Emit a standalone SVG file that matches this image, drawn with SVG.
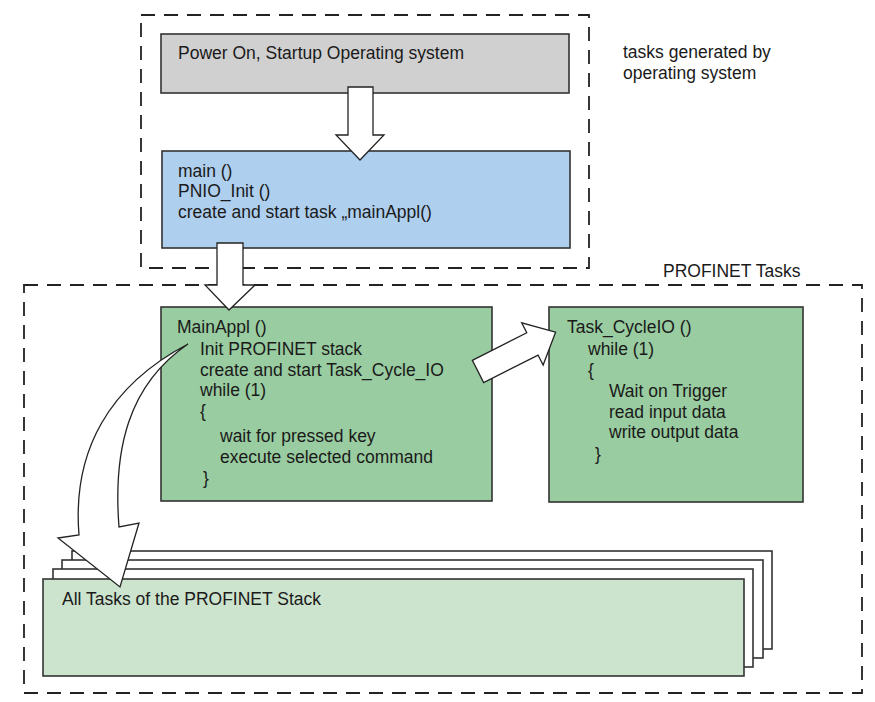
<svg xmlns="http://www.w3.org/2000/svg" width="875" height="702" viewBox="0 0 875 702">
<style>
text{font-family:"Liberation Sans",Arial,sans-serif;font-size:17.5px;fill:#1a1a1a}
.dash{fill:none;stroke:#222;stroke-width:1.8;stroke-dasharray:14 9}
.box{stroke:#333;stroke-width:1.6}
.arrow{fill:#fff;stroke:#222;stroke-width:1.3;stroke-linejoin:miter}
</style>
<rect width="875" height="702" fill="#fff"/>
<g id="os-frame">
<rect class="dash" x="141" y="15" width="448" height="253"/>
<text x="623" y="58">tasks generated by</text>
<text x="623" y="79">operating system</text>
</g>
<g id="profinet-frame">
<rect class="dash" x="24" y="285" width="838" height="408"/>
<text x="663" y="277">PROFINET Tasks</text>
</g>
<g id="power-on">
<rect class="box" x="161" y="34" width="408" height="59" fill="#d0d0d0"/>
<text x="178" y="59">Power On, Startup Operating system</text>
</g>
<g id="main">
<rect class="box" x="162" y="151" width="408" height="97" fill="#afcfee"/>
<text x="178" y="177">main ()</text>
<text x="178" y="197">PNIO_Init ()</text>
<text x="178" y="218">create and start task „mainAppl()</text>
</g>
<g id="stack">
<rect class="box" x="72" y="551" width="700" height="98" fill="#fff"/>
<rect class="box" x="62" y="560" width="701" height="98" fill="#fff"/>
<rect class="box" x="53" y="569" width="700" height="98" fill="#fff"/>
<rect class="box" x="43" y="579" width="701" height="97" fill="#cce3cd"/>
<text x="62" y="605">All Tasks of the PROFINET Stack</text>
</g>
<g id="mainappl">
<rect class="box" x="161" y="307" width="331" height="194" fill="#99cca0"/>
<text x="177" y="333">MainAppl ()</text>
<text x="200" y="355">Init PROFINET stack</text>
<text x="200" y="376">create and start Task_Cycle_IO</text>
<text x="200" y="396">while (1)</text>
<text x="200" y="417">{</text>
<text x="220" y="442">wait for pressed key</text>
<text x="220" y="463">execute selected command</text>
<text x="203" y="484">}</text>
</g>
<g id="task-cycleio">
<rect class="box" x="549" y="307" width="254" height="195" fill="#99cca0"/>
<text x="567" y="333">Task_CycleIO ()</text>
<text x="588" y="355">while (1)</text>
<text x="588" y="376">{</text>
<text x="609" y="397">Wait on Trigger</text>
<text x="609" y="418">read input data</text>
<text x="609" y="438">write output data</text>
<text x="595" y="460">}</text>
</g>
<g id="connectors">
<polygon class="arrow" points="348,87 373,87 373,135 384,135 360,160 336,135 348,135"/>
<polygon class="arrow" points="217,243 243,243 243,285 255,285 229,310 205,285 217,285"/>
<polygon class="arrow" transform="translate(478,371.5) rotate(-26.9)" points="0,-12.5 61,-12.5 61,-23.7 87,0 61,23.7 61,12.5 0,12.5"/>
<path class="arrow" d="M188,344 C110,385 72,450 79,535 L58,538 L120,587 L139,523 L119,527 C113,450 128,385 188,344 Z"/>
</g>
</svg>
